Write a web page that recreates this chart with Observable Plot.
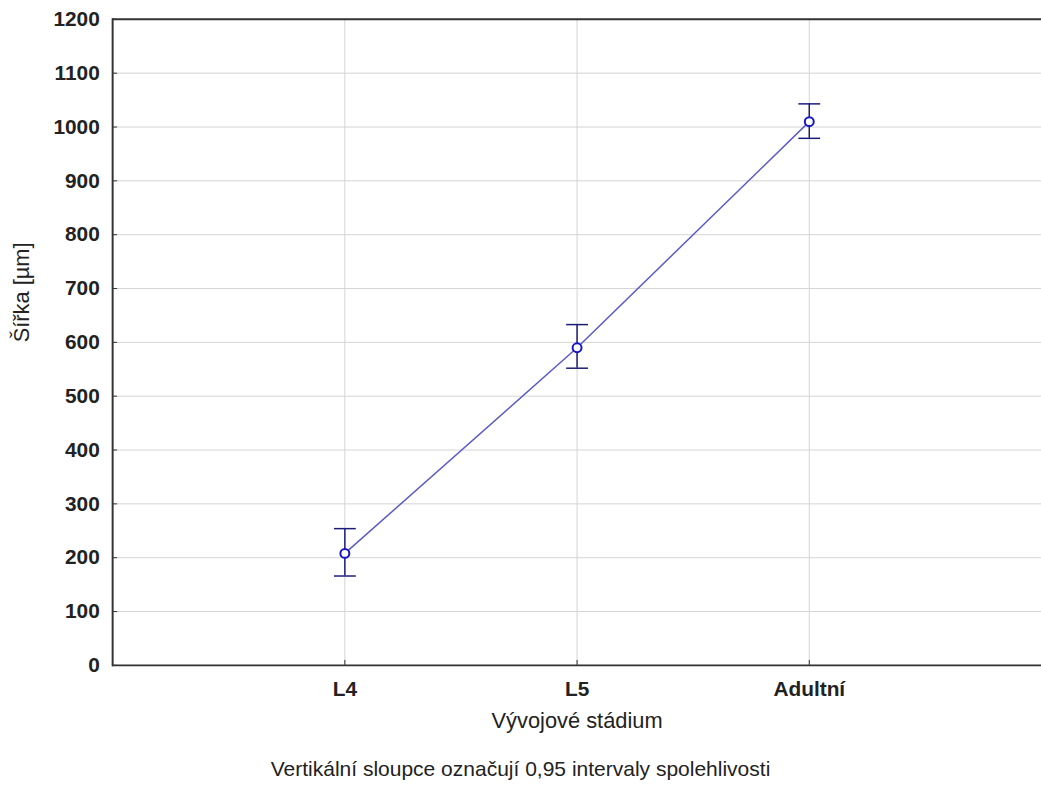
<!DOCTYPE html>
<html>
<head>
<meta charset="utf-8">
<script src="https://cdn.jsdelivr.net/npm/d3@7"></script>
<script src="https://cdn.jsdelivr.net/npm/@observablehq/plot@0.6"></script>
<style>
  html, body { margin: 0; padding: 0; background: #fff; overflow: hidden; }
  #chart svg { display: block; }
  #chart g[aria-label="x-axis tick label"] text,
  #chart g[aria-label="y-axis tick label"] text { font-weight: bold; }
  #caption { width: 1041px; text-align: center; font: 21px "Liberation Sans", Arial, sans-serif; color: #222; height: 40px; line-height: 40px; }
</style>
</head>
<body>
<div id="chart"></div>
<div id="caption"></div>
<script>
const categories = ["L4", "L5", "Adultní"];
const means = [208, 590, 1010];
const lower = [166, 552, 979];
const upper = [254, 633, 1043];
const yTicks = [0, 100, 200, 300, 400, 500, 600, 700, 800, 900, 1000, 1100, 1200];
const xLabel = "Vývojové stádium";
const yLabel = "Šířka [µm]";
const captionText = "Vertikální sloupce označují 0,95 intervaly spolehlivosti";

const data = categories.map((c, i) => ({stage: c, mean: means[i], lo: lower[i], hi: upper[i]}));

// horizontal cap symbol for the error bars
const capSymbol = {
  draw(context, size) {
    const w = Math.sqrt(size / Math.PI);
    context.moveTo(-w, 0);
    context.lineTo(w, 0);
  }
};

const chart = Plot.plot({
  width: 1049,
  height: 755,
  marginTop: 19,
  marginLeft: 113,
  marginRight: 0,
  marginBottom: 85,
  style: {fontFamily: "'Liberation Sans', Arial, sans-serif", fontSize: "21px", color: "#222", background: "#fff"},
  x: {type: "point", domain: categories, range: [347, 815], padding: 0},
  y: {domain: [0, 1200], ticks: yTicks},
  marks: [
    Plot.gridY(yTicks, {stroke: "#d4d4d4", strokeOpacity: 1}),
    Plot.gridX(categories, {stroke: "#d4d4d4", strokeOpacity: 1}),
    Plot.axisY(yTicks, {tickSize: -5, tickPadding: 18, tickFormat: d => String(d), stroke: "#333", fill: "#222", label: null}),
    Plot.axisX(categories, {tickSize: -5, tickPadding: 21, stroke: "#333", fill: "#222", label: null}),
    Plot.ruleY([0, 1200], {stroke: "#333", strokeWidth: 2}),
    Plot.frame({anchor: "left", stroke: "#333", strokeWidth: 2}),
    Plot.line(data, {x: "stage", y: "mean", stroke: "#5a5ac8", strokeWidth: 1.5}),
    Plot.ruleX(data, {x: "stage", y1: "lo", y2: "hi", stroke: "#1c1c78", strokeWidth: 1.5}),
    Plot.dot(data, {x: "stage", y: "lo", symbol: capSymbol, r: 11, stroke: "#1c1c78", strokeWidth: 1.5, fill: "none"}),
    Plot.dot(data, {x: "stage", y: "hi", symbol: capSymbol, r: 11, stroke: "#1c1c78", strokeWidth: 1.5, fill: "none"}),
    Plot.dot(data, {x: "stage", y: "mean", r: 4.5, stroke: "#1515c8", strokeWidth: 2, fill: "#fff"}),
    Plot.text([xLabel], {frameAnchor: "bottom", dy: 63, fill: "#222", fontSize: 22}),
    Plot.text([yLabel], {frameAnchor: "left", dx: -91, dy: 0, rotate: -90, fill: "#222", fontSize: 22})
  ]
});
document.getElementById("chart").appendChild(chart);
document.getElementById("caption").textContent = captionText;
</script>
</body>
</html>
